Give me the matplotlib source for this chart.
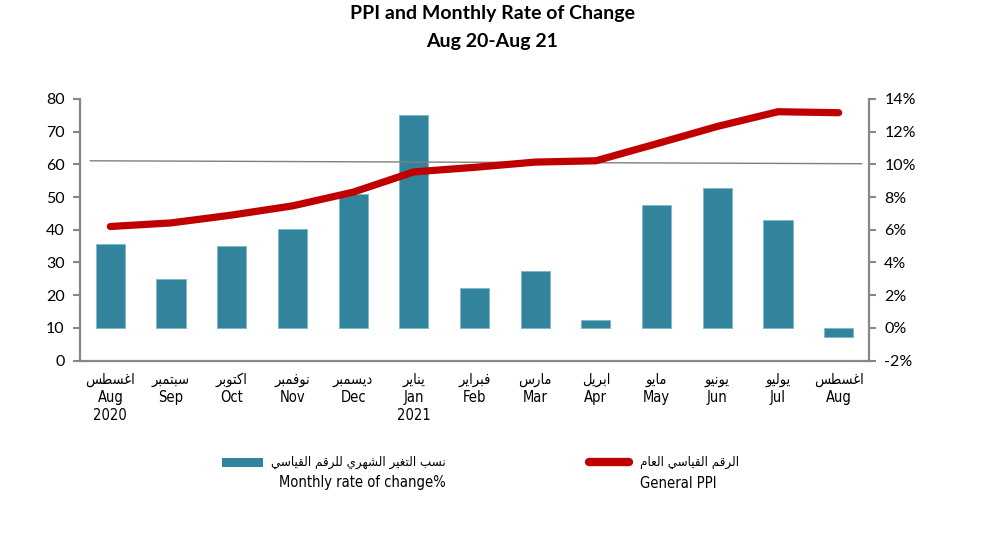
import matplotlib.pyplot as plt
from matplotlib.patches import Rectangle
from matplotlib.lines import Line2D

# data
months_ar = ["اغسطس", "سبتمبر", "اكتوبر", "نوفمبر", "ديسمبر", "يناير", "فبراير",
             "مارس", "ابريل", "مايو", "يونيو", "يوليو", "اغسطس"]
months_en = ["Aug", "Sep", "Oct", "Nov", "Dec", "Jan", "Feb",
             "Mar", "Apr", "May", "Jun", "Jul", "Aug"]
years = ["2020", "", "", "", "", "2021", "", "", "", "", "", "", ""]
monthly_rate = [5.1, 3.0, 5.0, 6.05, 8.2, 13.05, 2.45, 3.5, 0.5, 7.5, 8.55, 6.6, -0.55]
general_ppi = [41.0, 42.1, 44.5, 47.3, 51.5, 57.7, 59.1, 60.7, 61.1, 66.3, 71.6, 76.1, 75.8]
ref_x = [-0.33, 12.38]
ref_y = [61.1, 60.2]

legend_bar_ar = "نسب التغير الشهري للرقم القياسي"
legend_bar_en = "Monthly rate of change%"
legend_line_ar = "الرقم القياسي العام"
legend_line_en = "General PPI"

# matplotlib has no Arabic shaping: pick presentation forms by hand, then reverse
AR_FORMS = {
    'ا': (0xFE8D, 2), 'ب': (0xFE8F, 4), 'ت': (0xFE95, 4), 'د': (0xFEA9, 2),
    'ر': (0xFEAD, 2), 'س': (0xFEB1, 4), 'ش': (0xFEB5, 4), 'ط': (0xFEC1, 4),
    'ع': (0xFEC9, 4), 'غ': (0xFECD, 4), 'ف': (0xFED1, 4), 'ق': (0xFED5, 4),
    'ك': (0xFED9, 4), 'ل': (0xFEDD, 4), 'م': (0xFEE1, 4), 'ن': (0xFEE5, 4),
    'ه': (0xFEE9, 4), 'و': (0xFEED, 2), 'ي': (0xFEF1, 4),
}


def shape_ar(text):
    out = []
    for i, ch in enumerate(text):
        if ch not in AR_FORMS:
            out.append(ch)
            continue
        base, n = AR_FORMS[ch]
        prev = text[i - 1] if i > 0 else ''
        nxt = text[i + 1] if i + 1 < len(text) else ''
        join_prev = prev in AR_FORMS and AR_FORMS[prev][1] == 4
        join_next = n == 4 and nxt in AR_FORMS
        if join_prev and join_next:
            form = 3
        elif join_prev:
            form = 1
        elif join_next:
            form = 2
        else:
            form = 0
        out.append(chr(base + form))
    return ''.join(reversed(out))


narrow = dict(family='DejaVu Sans', stretch='condensed')
axis_font = ['Lato', 'DejaVu Sans']
bar_color = '#31849B'
line_color = '#C00000'
spine_color = '#878787'

fig = plt.figure(figsize=(10, 5.35), dpi=100)
ax1 = fig.add_axes([0.08, 0.326, 0.789, 0.489])
ax2 = ax1.twinx()
ax1.set_zorder(ax2.get_zorder() + 1)
ax1.patch.set_visible(False)

x = list(range(len(months_en)))
ax2.bar(x, monthly_rate, width=0.48, color=bar_color, edgecolor='#7fb8c8', linewidth=0.6)
ax1.plot(ref_x, ref_y, color='#808080', linewidth=1.0)
ax1.plot(x, general_ppi, color=line_color, linewidth=5.2, solid_capstyle='round',
         solid_joinstyle='round')

ax1.set_xlim(-0.5, len(x) - 0.5)
ax1.set_ylim(0, 80)
ax1.set_yticks(range(0, 81, 10))
ax2.set_ylim(-2, 14)
ax2.set_yticks(range(-2, 15, 2))
ax2.set_yticklabels([f"{v}%" for v in range(-2, 15, 2)])

labels = []
for a, e, yr in zip(months_ar, months_en, years):
    lab = shape_ar(a) + "\n" + e
    if yr:
        lab += "\n" + yr
    labels.append(lab)
ax1.set_xticks(x)
ax1.set_xticklabels(labels, fontsize=10.5, linespacing=1.27, va='top', **narrow)
ax1.tick_params(axis='x', length=0, pad=8)

for ax in (ax1, ax2):
    for s in ax.spines.values():
        s.set_color(spine_color)
        s.set_linewidth(1.6)
    ax.spines['top'].set_visible(False)
    ax.tick_params(axis='y', direction='out', length=5, width=1.5, color=spine_color,
                   labelsize=11.5, pad=6)
    for t in ax.get_yticklabels():
        t.set_family(axis_font)
ax1.spines['right'].set_visible(False)
ax2.spines['left'].set_visible(False)
ax2.spines['bottom'].set_visible(False)

fig.text(0.492, 1 - 13 / 535, "PPI and Monthly Rate of Change", ha='center', va='center',
         fontsize=14, fontweight='bold', family=axis_font)
fig.text(0.492, 1 - 41 / 535, "Aug 20-Aug 21", ha='center', va='center',
         fontsize=14, fontweight='bold', family=axis_font)

# legend drawn by hand so the key sits on the Arabic line
fig.patches.append(Rectangle((0.222, 1 - 467 / 535), 0.041, 9 / 535, transform=fig.transFigure,
                             facecolor=bar_color, edgecolor='none'))
fig.lines.append(Line2D([0.589, 0.629], [1 - 462 / 535] * 2, transform=fig.transFigure,
                        color=line_color, linewidth=6, solid_capstyle='round'))
fig.text(0.446, 1 - 462 / 535, shape_ar(legend_bar_ar), ha='right', va='center',
         fontsize=9.5, **narrow)
fig.text(0.446, 1 - 482 / 535, legend_bar_en, ha='right', va='center',
         fontsize=10.5, **narrow)
fig.text(0.640, 1 - 462 / 535, shape_ar(legend_line_ar), ha='left', va='center',
         fontsize=9.5, **narrow)
fig.text(0.640, 1 - 483 / 535, legend_line_en, ha='left', va='center',
         fontsize=10.5, **narrow)

fig.savefig("out.png", dpi=100)
